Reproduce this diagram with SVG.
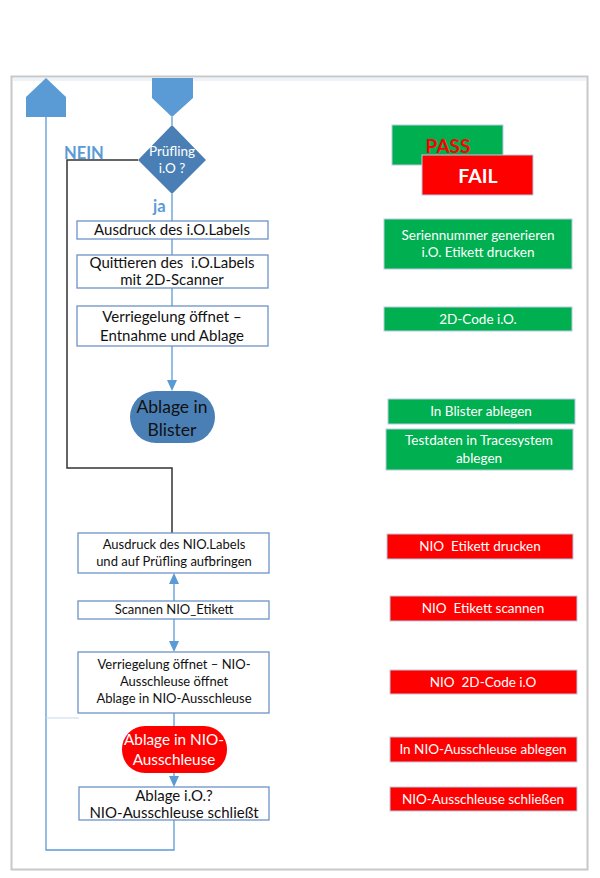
<svg xmlns="http://www.w3.org/2000/svg" width="600" height="878" viewBox="0 0 600 878">
<style>
.box{fill:#fff;stroke:#6d93c6;stroke-width:1.3}
.t{font-family:Lato,"Open Sans","Liberation Sans",sans-serif;text-anchor:middle;white-space:pre}
.bt{font-size:15px;fill:#111}
.st{font-size:13px;fill:#111}
.wt{font-size:13.5px;fill:#fff}
.g{fill:#00b050;stroke:#b9c9e0;stroke-width:1}
.r{fill:#ff0000;stroke:#b9c9e0;stroke-width:1}
.c{fill:none;stroke:#5b9bd5;stroke-width:1.3}
.k{fill:none;stroke:#333;stroke-width:1.5}
.lbl{font-family:Lato,"Liberation Sans",sans-serif;font-weight:bold;fill:#5b9bd5;font-size:16.5px}
</style>
<rect x="0" y="0" width="600" height="878" fill="#fff"/>
<rect x="11.5" y="76.5" width="576" height="793" fill="#fff" stroke="#c8c8c8" stroke-width="2"/>
<rect x="13" y="78" width="573" height="3" fill="#eef3fa"/>

<g id="connectors">
<path class="c" d="M46,117 V850 H174 V820"/>
<path class="c" d="M172,117 V125"/>
<path class="c" d="M172,194 V221"/>
<path class="c" d="M172,239 V255"/>
<path class="c" d="M172,288 V306"/>
<path class="c" d="M172,346 V382"/>
<path d="M167,380 L177,380 L172,391 Z" fill="#5b9bd5"/>
<path class="k" d="M138,160 H67 V468 H172 V533"/>
<path class="c" d="M174,619 V583"/>
<path d="M169,584 L179,584 L174,573 Z" fill="#5b9bd5"/>
<path class="c" d="M174,619 V642"/>
<path d="M169,641 L179,641 L174,652 Z" fill="#5b9bd5"/>
<path class="c" d="M174,713 V726"/>
<path class="c" d="M174,773 V777"/>
<path d="M169,776 L179,776 L174,787 Z" fill="#5b9bd5"/>
<path d="M46,718 H79" fill="none" stroke="#c5d7ee" stroke-width="1"/>
</g>

<g id="start-up">
<path d="M46,78 L66,97 V117 H26 V97 Z" fill="#5b9bd5"/>
</g>
<g id="start-down">
<path d="M152,78 H193 V98 L172,117 L152,98 Z" fill="#5b9bd5"/>
</g>

<g id="decision">
<path d="M172,125 L206,160 L172,194 L138,160 Z" fill="#4a7fb5"/>
<text class="t" x="172" y="156" font-size="13.5" fill="#fff">Prüfling</text>
<text class="t" x="172" y="173" font-size="13.5" fill="#fff">i.O ?</text>
</g>
<text class="lbl" x="64" y="159">NEIN</text>
<text class="lbl" x="153" y="212">ja</text>

<g id="n1">
<rect class="box" x="77" y="221" width="191" height="18"/>
<text class="t bt" x="172" y="235">Ausdruck des i.O.Labels</text>
</g>
<g id="n2">
<rect class="box" x="77" y="255" width="191" height="33"/>
<text class="t bt" x="172" y="268">Quittieren des  i.O.Labels</text>
<text class="t bt" x="172" y="285">mit 2D-Scanner</text>
</g>
<g id="n3">
<rect class="box" x="77" y="306" width="191" height="40"/>
<text class="t bt" x="172" y="322">Verriegelung öffnet –</text>
<text class="t bt" x="172" y="341">Entnahme und Ablage</text>
</g>
<g id="n4">
<rect x="130" y="391" width="85" height="52" rx="26" ry="26" fill="#4a7fb5"/>
<text class="t" x="172" y="413" font-size="17.5" fill="#111">Ablage in</text>
<text class="t" x="172" y="436" font-size="17.5" fill="#111">Blister</text>
</g>

<g id="n5">
<rect class="box" x="78" y="533" width="191" height="40"/>
<text class="t st" x="174" y="549">Ausdruck des NIO.Labels</text>
<text class="t st" x="174" y="566">und auf Prüfling aufbringen</text>
</g>
<g id="n6">
<rect class="box" x="78" y="601" width="191" height="18"/>
<text class="t st" x="174" y="614">Scannen NIO_Etikett</text>
</g>
<g id="n7">
<rect class="box" x="78" y="652" width="191" height="61"/>
<text class="t st" x="174" y="669">Verriegelung öffnet – NIO-</text>
<text class="t st" x="174" y="686">Ausschleuse öffnet</text>
<text class="t st" x="174" y="703">Ablage in NIO-Ausschleuse</text>
</g>
<g id="n8">
<rect x="122" y="726" width="105" height="47" rx="23" ry="23" fill="#ff0000"/>
<text class="t" x="174" y="745" font-size="15.3" fill="#fff">Ablage in NIO-</text>
<text class="t" x="174" y="765" font-size="15.3" fill="#fff">Ausschleuse</text>
</g>
<g id="n9">
<rect class="box" x="79" y="787" width="190" height="33"/>
<text class="t bt" x="174" y="801">Ablage i.O.?</text>
<text class="t bt" x="174" y="818">NIO-Ausschleuse schließt</text>
</g>

<g id="pass">
<rect class="g" x="392" y="125" width="111" height="40"/>
<text class="t" x="448" y="153" font-size="19" font-weight="bold" fill="#ff0000">PASS</text>
</g>
<g id="fail">
<rect class="r" x="422" y="155" width="111" height="40"/>
<text class="t" x="478" y="183" font-size="19.5" font-weight="bold" fill="#fff">FAIL</text>
</g>

<g id="r1">
<rect class="g" x="384" y="219" width="188" height="50"/>
<text class="t wt" x="478" y="240">Seriennummer generieren</text>
<text class="t wt" x="478" y="257">i.O. Etikett drucken</text>
</g>
<g id="r2">
<rect class="g" x="384" y="307" width="188" height="24"/>
<text class="t wt" x="478" y="324">2D-Code i.O.</text>
</g>
<g id="r3">
<rect class="g" x="388" y="399" width="187" height="25"/>
<text class="t wt" x="481" y="416">In Blister ablegen</text>
</g>
<g id="r4">
<rect class="g" x="386" y="429" width="187" height="41"/>
<text class="t wt" x="479" y="445">Testdaten in Tracesystem</text>
<text class="t wt" x="479" y="463">ablegen</text>
</g>
<g id="r5">
<rect class="r" x="387" y="534" width="186" height="25"/>
<text class="t wt" x="480" y="551">NIO  Etikett drucken</text>
</g>
<g id="r6">
<rect class="r" x="390" y="596" width="187" height="25"/>
<text class="t wt" x="483" y="613">NIO  Etikett scannen</text>
</g>
<g id="r7">
<rect class="r" x="390" y="670" width="187" height="24"/>
<text class="t wt" x="483" y="687">NIO  2D-Code i.O</text>
</g>
<g id="r8">
<rect class="r" x="390" y="737" width="187" height="25"/>
<text class="t wt" x="483" y="754">In NIO-Ausschleuse ablegen</text>
</g>
<g id="r9">
<rect class="r" x="390" y="787" width="187" height="24"/>
<text class="t wt" x="483" y="804">NIO-Ausschleuse schließen</text>
</g>
</svg>
